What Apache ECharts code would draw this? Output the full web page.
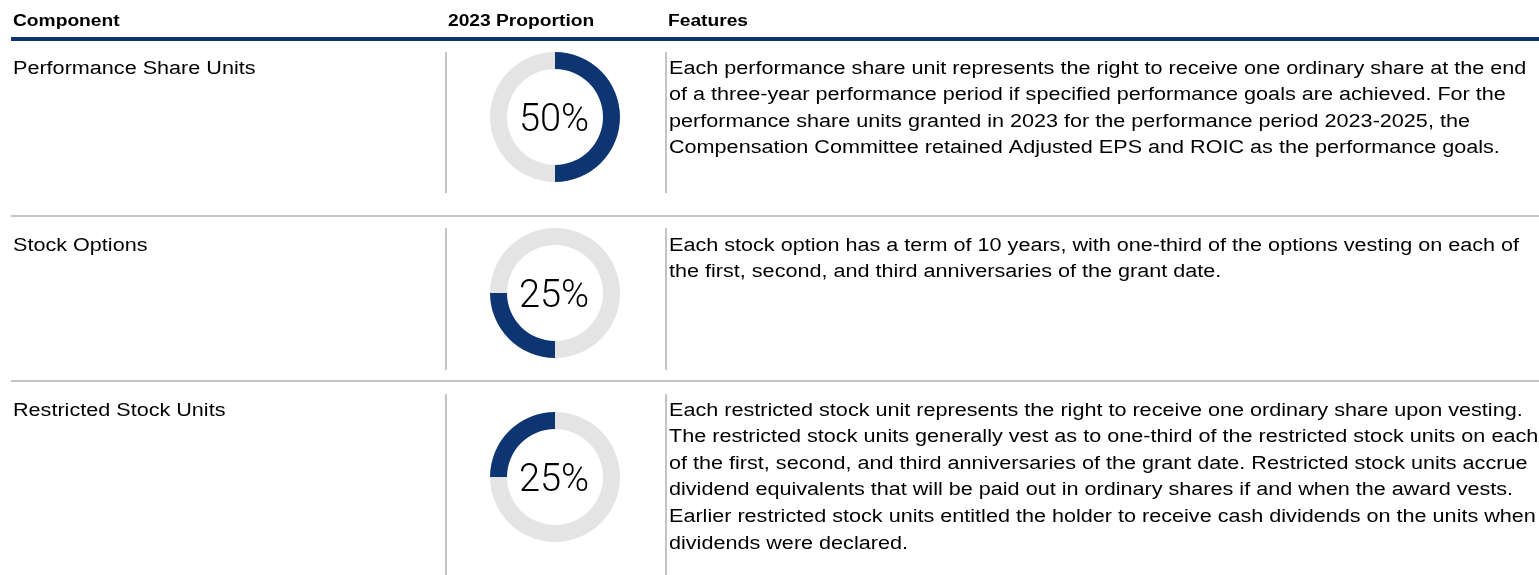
<!DOCTYPE html>
<html>
<head>
<meta charset="utf-8">
<title>2023 LTI mix</title>
<script src="https://cdn.jsdelivr.net/npm/echarts@6/dist/echarts.min.js"></script>
<style>
    html, body {margin: 0; padding: 0; background: #fff;}
    #main {width: 1539px; height: 575px;}
</style>
</head>
<body>
<div id="main"></div>
<script>
// table content
const headers = ['Component', '2023 Proportion', 'Features'];
const components = ['Performance Share Units', 'Stock Options', 'Restricted Stock Units'];
const proportions = [50, 25, 25];
const features = [
    [
        'Each performance share unit represents the right to receive one ordinary share at the end',
        'of a three-year performance period if specified performance goals are achieved. For the',
        'performance share units granted in 2023 for the performance period 2023-2025, the',
        'Compensation Committee retained Adjusted EPS and ROIC as the performance goals.'
    ],
    [
        'Each stock option has a term of 10 years, with one-third of the options vesting on each of',
        'the first, second, and third anniversaries of the grant date.'
    ],
    [
        'Each restricted stock unit represents the right to receive one ordinary share upon vesting.',
        'The restricted stock units generally vest as to one-third of the restricted stock units on each',
        'of the first, second, and third anniversaries of the grant date. Restricted stock units accrue',
        'dividend equivalents that will be paid out in ordinary shares if and when the award vests.',
        'Earlier restricted stock units entitled the holder to receive cash dividends on the units when',
        'dividends were declared.'
    ]
];

// layout
const navy = '#0c3571';
const ringGrey = '#e4e4e4';
const ruleGrey = '#c4c4c4';
const textFont = '"Liberation Sans", Arial, sans-serif';
const stretch = 1.2;          // source text is drawn wider than plain Arial
const lineH = 26.6;
const rowTops = [40, 217, 382];
const rowBottoms = [216, 381, 575];
const ruleSpans = [[52, 193], [228, 370], [394, 575]];
const donutCenters = [117, 293, 477];
const colX = [13, 448, 668];

const chart = echarts.init(document.getElementById('main'));

const graphic = [];

headers.forEach((h, i) => {
    graphic.push({
        type: 'text',
        x: colX[i],
        y: 22,
        scaleX: stretch,
        silent: true,
        style: {
            text: h,
            font: 'bold 16px ' + textFont,
            fill: '#000',
            textVerticalAlign: 'middle'
        }
    });
});

// thick header rule
graphic.push({
    type: 'rect',
    silent: true,
    shape: {x: 11, y: 37, width: 1528, height: 4},
    style: {fill: navy}
});

// grey separators between rows
rowBottoms.slice(0, 2).forEach(y => {
    graphic.push({
        type: 'rect',
        silent: true,
        shape: {x: 11, y: y - 1, width: 1528, height: 2},
        style: {fill: ruleGrey}
    });
});

components.forEach((name, i) => {
    const top = rowTops[i] + 28.7 - lineH / 2;
    graphic.push({
        type: 'text',
        x: colX[0],
        y: top,
        scaleX: stretch,
        silent: true,
        style: {
            text: name,
            font: '18px ' + textFont,
            fill: '#000',
            lineHeight: lineH,
            textVerticalAlign: 'top'
        }
    });
    graphic.push({
        type: 'text',
        x: 669,
        y: top,
        scaleX: stretch,
        silent: true,
        style: {
            text: features[i].join('\n'),
            font: '18px ' + textFont,
            fill: '#000',
            lineHeight: lineH,
            textVerticalAlign: 'top'
        }
    });
    [446, 666].forEach(x => {
        graphic.push({
            type: 'line',
            silent: true,
            shape: {x1: x, y1: ruleSpans[i][0], x2: x, y2: ruleSpans[i][1]},
            style: {stroke: ruleGrey, lineWidth: 2}
        });
    });
});

// each donut picks up where the previous component ended
let offset = 0;
const series = proportions.map((p, i) => {
    const data = [
        {value: offset, name: 'before', itemStyle: {color: ringGrey}, label: {show: false}},
        {value: p, name: components[i], itemStyle: {color: navy}},
        {value: 100 - offset - p, name: 'after', itemStyle: {color: ringGrey}, label: {show: false}}
    ];
    offset += p;
    return {
        type: 'pie',
        center: [555, donutCenters[i]],
        radius: [48, 65],
        startAngle: 90,
        clockwise: true,
        silent: true,
        animation: false,
        avoidLabelOverlap: false,
        itemStyle: {borderWidth: 0, borderRadius: 0},
        emphasis: {disabled: true},
        label: {
            show: true,
            position: 'center',
            formatter: '{c}%',
            fontFamily: 'Roboto',
            fontWeight: 300,
            fontSize: 38,
            color: '#000'
        },
        labelLayout: {dy: 4, dx: -1},
        labelLine: {show: false},
        data: data
    };
});

chart.setOption({
    animation: false,
    tooltip: {show: false},
    series: series,
    graphic: graphic
});
</script>
</body>
</html>
